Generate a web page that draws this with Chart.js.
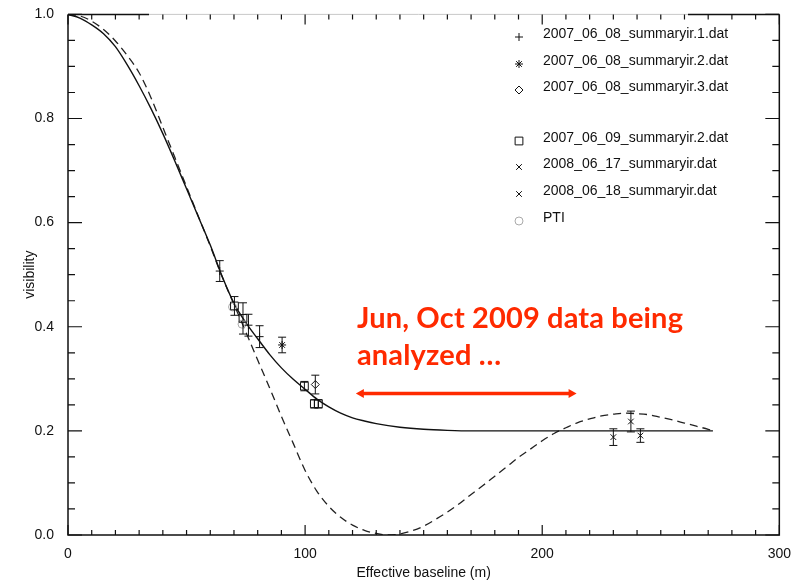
<!DOCTYPE html>
<html>
<head>
<meta charset="utf-8">
<title>Visibility vs effective baseline</title>
<script src="https://cdn.jsdelivr.net/npm/chart.js@4.4.1/dist/chart.umd.min.js"></script>
<style>
  html, body { margin: 0; padding: 0; background: #fff; }
  #wrap { position: relative; width: 794px; height: 582px; }
  #note {
    position: absolute; left: 357px; top: 298px;
    color: #ff2a00; font: bold 29px Lato, "Open Sans", sans-serif;
    letter-spacing: 0.15px;
    line-height: 37px; white-space: nowrap;
  }
</style>
</head>
<body>
<div id="wrap">
  <canvas id="visChart" width="794" height="582"></canvas>
  <div id="note">Jun, Oct 2009 data being<br>analyzed …</div>
</div>
<script>
// model curves
const solidX = [0, 5, 10, 15, 20, 25, 30, 35, 40, 45, 50, 55, 60, 65, 70, 75, 80, 85, 90, 95,
  100, 105, 110, 115, 120, 125, 130, 140, 150, 160, 170, 180, 200, 220, 240, 260, 272];
const solidV = [1.000, 0.993, 0.980, 0.963, 0.938, 0.903, 0.863, 0.819, 0.771, 0.719, 0.665, 0.611, 0.557, 0.497, 0.445, 0.408, 0.377, 0.347, 0.321, 0.299,
  0.280, 0.261, 0.246, 0.234, 0.225, 0.219, 0.214, 0.207, 0.203, 0.201, 0.200, 0.200, 0.200, 0.200, 0.200, 0.200, 0.200];

const dashedX = [0, 5, 10, 15, 20, 25, 30, 35, 40, 45, 50, 55, 60, 65, 70, 75, 80, 85, 90, 95,
  100, 105, 110, 115, 120, 125, 130, 135, 140, 145, 150, 155, 160, 165, 170, 175, 180, 185, 190, 195,
  200, 205, 210, 215, 220, 225, 230, 235, 240, 245, 250, 255, 260, 265, 270, 272];
const dashedV = [1.000, 0.997, 0.987, 0.971, 0.949, 0.921, 0.888, 0.840, 0.783, 0.726, 0.669, 0.612, 0.555, 0.496, 0.443, 0.390, 0.336, 0.283, 0.228, 0.176,
  0.124, 0.084, 0.055, 0.034, 0.019, 0.009, 0.003, 0.000, 0.002, 0.008, 0.017, 0.030, 0.044, 0.060, 0.078, 0.095, 0.113, 0.131, 0.149, 0.165,
  0.181, 0.195, 0.206, 0.216, 0.223, 0.229, 0.232, 0.234, 0.233, 0.231, 0.226, 0.221, 0.215, 0.209, 0.203, 0.200];

// measured points: baseline, visibility, error
const plusX = [64.0, 76.1, 80.8];
const plusV = [0.507, 0.403, 0.381];
const plusErr = [0.020, 0.021, 0.021];

const starX = [90.3];
const starV = [0.365];
const starErr = [0.015];

const diamondX = [104.3];
const diamondV = [0.289];
const diamondErr = [0.018];

const squareX = [70.2, 73.8, 99.7, 103.9, 105.6];
const squareV = [0.440, 0.416, 0.286, 0.252, 0.252];
const squareErr = [0.018, 0.030, 0.009, 0.008, 0.008];

const x17X = [230.0];
const x17V = [0.188];
const x17Err = [0.016];

const x18X = [237.4, 241.4];
const x18V = [0.218, 0.191];
const x18Err = [0.020, 0.013];

const ptiX = [69.4, 73.4];
const ptiV = [0.438, 0.405];

const legendLabels = [
  "2007_06_08_summaryir.1.dat",
  "2007_06_08_summaryir.2.dat",
  "2007_06_08_summaryir.3.dat",
  "2007_06_09_summaryir.2.dat",
  "2008_06_17_summaryir.dat",
  "2008_06_18_summaryir.dat",
  "PTI"
];
const legendRows = [38, 65, 91, 142, 168, 195, 222];

const xTicks = [0, 100, 200, 300];
const yTicks = [0, 0.2, 0.4, 0.6, 0.8, 1.0];

function pts(xs, vs) {
  return xs.map((x, i) => ({ x: x, y: vs[i] }));
}

function markerSet(label, xs, vs, errs, style, radius, color) {
  return {
    label: label,
    data: pts(xs, vs),
    errors: errs,
    showLine: false,
    pointStyle: style,
    pointRadius: radius,
    pointBorderWidth: 1,
    pointBorderColor: color || "#111",
    pointBackgroundColor: "rgba(0,0,0,0)",
    borderColor: color || "#111",
    backgroundColor: "rgba(0,0,0,0)"
  };
}

const markerSets = [
  markerSet(legendLabels[0], plusX, plusV, plusErr, "cross", 4),
  markerSet(legendLabels[1], starX, starV, starErr, "star", 4),
  markerSet(legendLabels[2], diamondX, diamondV, diamondErr, "rectRot", 4),
  markerSet(legendLabels[3], squareX, squareV, squareErr, "rect", 5.5),
  markerSet(legendLabels[4], x17X, x17V, x17Err, "crossRot", 4),
  markerSet(legendLabels[5], x18X, x18V, x18Err, "crossRot", 4),
  markerSet(legendLabels[6], ptiX, ptiV, null, "circle", 4, "#aaa")
];

// error bars with small caps
const errorBars = {
  id: "errorBars",
  afterDatasetsDraw(chart) {
    const { ctx, scales: { x, y } } = chart;
    ctx.save();
    ctx.lineWidth = 1;
    chart.data.datasets.forEach(ds => {
      if (!ds.errors) return;
      ctx.strokeStyle = ds.borderColor;
      ds.data.forEach((p, i) => {
        const e = ds.errors[i];
        const px = x.getPixelForValue(p.x);
        const top = y.getPixelForValue(p.y + e);
        const bot = y.getPixelForValue(p.y - e);
        ctx.beginPath();
        ctx.moveTo(px, top); ctx.lineTo(px, bot);
        ctx.moveTo(px - 4, top); ctx.lineTo(px + 4, top);
        ctx.moveTo(px - 4, bot); ctx.lineTo(px + 4, bot);
        ctx.stroke();
      });
    });
    ctx.restore();
  }
};

// box with inward ticks on all four sides
const frameTicks = {
  id: "frameTicks",
  afterDraw(chart) {
    const { ctx, chartArea: a, scales: { x, y } } = chart;
    ctx.save();
    ctx.lineWidth = 1.5;
    ctx.strokeStyle = "#111";
    ctx.beginPath();
    ctx.moveTo(a.left, a.top); ctx.lineTo(a.left, a.bottom);
    ctx.lineTo(a.right, a.bottom); ctx.lineTo(a.right, a.top);
    ctx.moveTo(a.right, a.top); ctx.lineTo(688, a.top);
    ctx.moveTo(a.left, a.top); ctx.lineTo(149, a.top);
    ctx.stroke();
    ctx.strokeStyle = "#c8c8c8";
    ctx.lineWidth = 1;
    ctx.beginPath();
    ctx.moveTo(149, a.top); ctx.lineTo(688, a.top);
    ctx.stroke();

    ctx.strokeStyle = "#111";
    ctx.lineWidth = 1.2;
    ctx.beginPath();
    for (let v = 0; v <= 300; v += 10) {
      const px = x.getPixelForValue(v);
      const len = v % 100 === 0 ? 10 : 5;
      ctx.moveTo(px, a.bottom); ctx.lineTo(px, a.bottom - len);
      ctx.moveTo(px, a.top); ctx.lineTo(px, a.top + len);
    }
    for (let k = 0; k <= 20; k++) {
      const py = y.getPixelForValue(k * 0.05);
      const len = k % 4 === 0 ? 14 : 7;
      ctx.moveTo(a.left, py); ctx.lineTo(a.left + len, py);
      ctx.moveTo(a.right, py); ctx.lineTo(a.right - len, py);
    }
    ctx.stroke();

    // double-headed arrow under the note
    const ax1 = x.getPixelForValue(121.4);
    const ax2 = x.getPixelForValue(214.5);
    const ay = y.getPixelForValue(0.272);
    ctx.strokeStyle = "#ff2a00";
    ctx.fillStyle = "#ff2a00";
    ctx.lineWidth = 3.5;
    ctx.beginPath();
    ctx.moveTo(ax1 + 5, ay); ctx.lineTo(ax2 - 5, ay);
    ctx.stroke();
    ctx.beginPath();
    ctx.moveTo(ax1, ay); ctx.lineTo(ax1 + 8, ay - 4.5); ctx.lineTo(ax1 + 8, ay + 4.5); ctx.closePath();
    ctx.moveTo(ax2, ay); ctx.lineTo(ax2 - 8, ay - 4.5); ctx.lineTo(ax2 - 8, ay + 4.5); ctx.closePath();
    ctx.fill();
    ctx.restore();
  }
};

// legend in the upper right corner, with a gap after the third entry
const cornerLegend = {
  id: "cornerLegend",
  afterDraw(chart) {
    const { ctx } = chart;
    ctx.save();
    ctx.font = "14px 'Liberation Sans', Arial, sans-serif";
    ctx.textBaseline = "alphabetic";
    ctx.textAlign = "left";
    markerSets.forEach((ds, i) => {
      const yRow = legendRows[i];
      ctx.fillStyle = "#111";
      ctx.fillText(ds.label, 543, yRow);
      ctx.strokeStyle = ds.pointBorderColor;
      ctx.fillStyle = "rgba(0,0,0,0)";
      ctx.lineWidth = 1;
      Chart.helpers.drawPoint(ctx, {
        pointStyle: ds.pointStyle,
        radius: ds.pointStyle === "rect" ? 5.5 : 4,
        rotation: 0,
        borderWidth: 1
      }, 519, yRow - 1);
    });
    ctx.restore();
  }
};

const tickFont = { family: "'Liberation Sans', Arial, sans-serif", size: 14 };

new Chart(document.getElementById("visChart"), {
  type: "scatter",
  data: {
    datasets: [
      ...markerSets,
      {
        label: "model, with background",
        data: pts(solidX, solidV),
        showLine: true,
        pointRadius: 0,
        borderColor: "#111",
        borderWidth: 1.4,
        cubicInterpolationMode: "monotone"
      },
      {
        label: "model",
        data: pts(dashedX, dashedV),
        showLine: true,
        pointRadius: 0,
        borderColor: "#222",
        borderWidth: 1.3,
        borderDash: [8, 5],
        cubicInterpolationMode: "monotone"
      }
    ]
  },
  options: {
    responsive: false,
    animation: false,
    events: [],
    layout: { padding: { top: 12, right: 14, left: 0, bottom: 0 } },
    plugins: {
      legend: { display: false },
      tooltip: { enabled: false }
    },
    scales: {
      x: {
        type: "linear",
        min: 0,
        max: 300,
        afterBuildTicks: s => { s.ticks = xTicks.map(v => ({ value: v })); },
        grid: { display: false },
        border: { display: false },
        ticks: { color: "#111", font: tickFont, padding: 3, maxRotation: 0 },
        title: { display: true, text: "Effective baseline (m)", color: "#111", font: tickFont, padding: { top: 0, bottom: 0 } },
        afterFit: s => { s.height = 47; }
      },
      y: {
        type: "linear",
        min: 0,
        max: 1,
        afterBuildTicks: s => { s.ticks = yTicks.map(v => ({ value: v })); },
        grid: { display: false },
        border: { display: false },
        ticks: { color: "#111", font: tickFont, padding: 6, callback: v => v.toFixed(1) },
        title: { display: true, text: "visibility", color: "#111", font: tickFont, padding: { top: 22, bottom: 0 } },
        afterFit: s => { s.width = 68; }
      }
    }
  },
  plugins: [errorBars, frameTicks, cornerLegend]
});
</script>
</body>
</html>
